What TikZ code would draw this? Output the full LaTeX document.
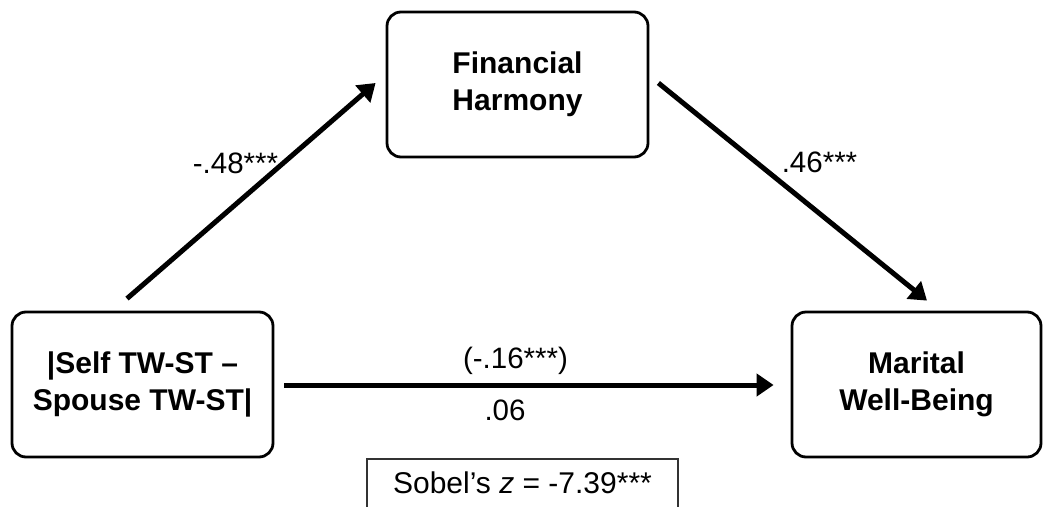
\documentclass[tikz,border=0pt]{standalone}
\usepackage{fontspec}
\setmainfont{Liberation Sans}
\usetikzlibrary{arrows.meta}
\begin{document}
\begin{tikzpicture}[x=1pt,y=-1pt,
  box/.style={draw=black, line width=2.8pt, rounded corners=14pt, minimum height=145pt, align=center, font=\fontsize{30}{37}\selectfont\bfseries, inner sep=0pt},
  arr/.style={line width=5pt, -{Triangle[length=17pt,width=22pt]}},
  lab/.style={font=\fontsize{29.5}{35}\selectfont, inner sep=0pt, anchor=base},
  sobelbox/.style={draw=black!80, line width=1.5pt, minimum width=311pt, inner xsep=0pt, inner ysep=13pt, text height=22pt, text depth=20pt, anchor=north, font=\fontsize{30}{36}\selectfont}]
\useasboundingbox (0,0) rectangle (1043,506);
\clip (0,0) rectangle (1043,506);
\node[box, minimum width=261pt] (fin) at (517.5,84.5) {Financial\\Harmony};
\node[box, minimum width=261pt] (self) at (142.5,384.5) {|Self TW-ST –\\Spouse TW-ST|};
\node[box, minimum width=249pt] (mar) at (916.5,384.5) {Marital\\Well-Being};
\draw[arr] ([shift={(-15.5,-12)}]self.north) -- ([shift={(-10,-1.5)}]fin.west);
\draw[arr] ([shift={(9,-1.5)}]fin.east) -- ([shift={(10.5,-10)}]mar.north);
\draw[arr] ([shift={(10,0.5)}]self.east) -- ([shift={(-17,0.5)}]mar.west);
\node[lab] (l48) at (235.5,173) {-.48***};
\node[lab] (l46) at (819.5,172) {.46***};
\node[lab] (l16) at (515.5,368) {(-.16***)};
\node[lab] (l06) at (505,420) {.06};
\node[sobelbox] (sobel) at (522.5,458) {Sobel's \textit{z} = -7.39***};
\end{tikzpicture}
\end{document}
